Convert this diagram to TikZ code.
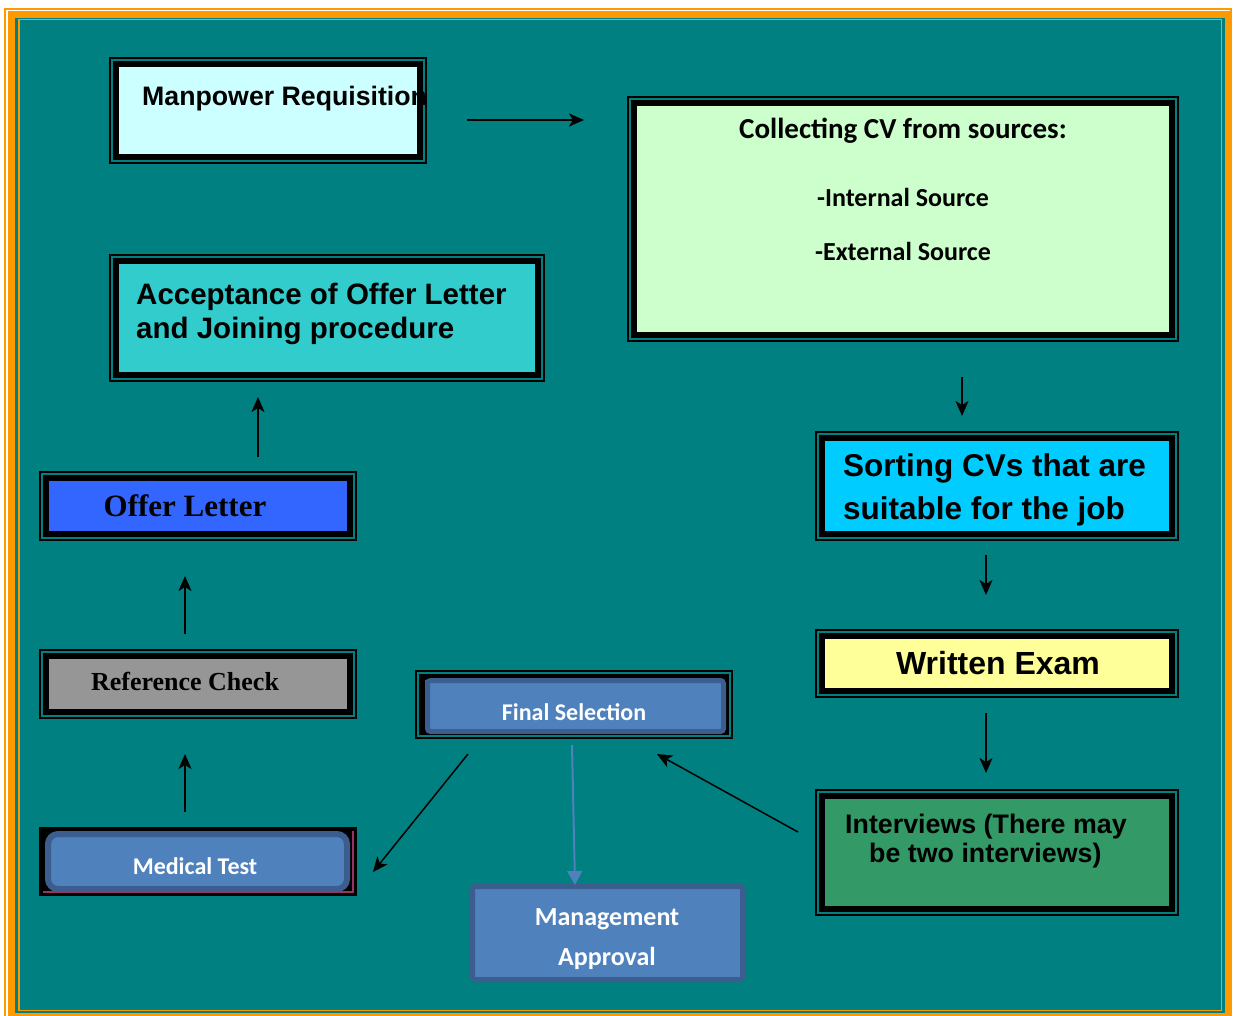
\documentclass[tikz,border=0pt]{standalone}
\usepackage{fontspec}
\setmainfont{Liberation Sans}
\newfontfamily\calfont{Carlito}
\newfontfamily\timesfont{Liberation Serif}
\usetikzlibrary{arrows.meta}

\definecolor{bgteal}{HTML}{008080}
\definecolor{frameorange}{HTML}{FF9900}
\definecolor{manpfill}{HTML}{CCFFFF}
\definecolor{collfill}{HTML}{CCFFCC}
\definecolor{accfill}{HTML}{33CCCC}
\definecolor{offerfill}{HTML}{3366FF}
\definecolor{reffill}{HTML}{969696}
\definecolor{sortfill}{HTML}{00CCFF}
\definecolor{examfill}{HTML}{FFFF99}
\definecolor{intfill}{HTML}{339966}
\definecolor{stepblue}{HTML}{4F81BD}
\definecolor{stepedge}{HTML}{3B5E8E}
\definecolor{rimred}{HTML}{993366}

\newcommand{\fsz}[1]{\fontsize{#1}{#1}\selectfont}

\begin{document}
\begin{tikzpicture}[x=1pt,y=-1pt,
    box/.style={draw=black,line width=6pt,outer sep=0pt,inner sep=0pt},
    rim/.style={draw=black,line width=1.5pt},
    pill/.style={fill=stepblue,draw=stepedge,line width=6pt,outer sep=0pt,inner sep=0pt},
    arial/.style={inner sep=0pt,font=\bfseries\fsz{#1}},
    times/.style={inner sep=0pt,font=\timesfont\bfseries\fsz{#1}},
    cal/.style={inner sep=0pt,font=\calfont\bfseries\fsz{#1}},
    arr/.style={line width=1.5pt,-{Stealth[length=15pt,width=13pt,inset=4pt]}}]

  \useasboundingbox (0,0) rectangle (1233,1015);
  \clip (0,0) rectangle (1233,1015);

  % page frame
  \fill[white] (0,0) rectangle (1233,1015);
  \draw[frameorange,line width=2pt] (5,9) rectangle (1231,1030);
  \filldraw[fill=bgteal,draw=frameorange,line width=7pt] (11.5,14.5) rectangle (1228.5,1016);
  \draw[frameorange,line width=1.5pt] (19,19.5) rectangle (1221.5,1010.5);

  % boxes
  \node[box,fill=manpfill,minimum width=304,minimum height=93] (manp) at (268,110.5) {};
  \node[box,fill=collfill,minimum width=538,minimum height=232] (coll) at (903,219) {};
  \node[box,fill=accfill,minimum width=422,minimum height=114] (acc) at (327,318) {};
  \node[box,fill=offerfill,minimum width=304,minimum height=56] (offer) at (198,506) {};
  \node[box,fill=reffill,minimum width=304,minimum height=56] (ref) at (198,684) {};
  \node[box,fill=sortfill,minimum width=350,minimum height=96] (sort) at (997,486) {};
  \node[box,fill=examfill,minimum width=350,minimum height=55] (exam) at (997,663.5) {};
  \node[box,fill=intfill,minimum width=350,minimum height=113] (int) at (997,852.5) {};
  \node[box,minimum width=304,minimum height=55] (fin) at (574,704.5) {};

  \draw[rim] ([shift={(-6,-6)}]manp.north west) rectangle ([shift={(6,6)}]manp.south east);
  \draw[rim] ([shift={(-6,-6)}]coll.north west) rectangle ([shift={(6,6)}]coll.south east);
  \draw[rim] ([shift={(-6,-6)}]acc.north west) rectangle ([shift={(6,6)}]acc.south east);
  \draw[rim] ([shift={(-6,-6)}]offer.north west) rectangle ([shift={(6,6)}]offer.south east);
  \draw[rim] ([shift={(-6,-6)}]ref.north west) rectangle ([shift={(6,6)}]ref.south east);
  \draw[rim] ([shift={(-6,-6)}]sort.north west) rectangle ([shift={(6,6)}]sort.south east);
  \draw[rim] ([shift={(-6,-6)}]exam.north west) rectangle ([shift={(6,6)}]exam.south east);
  \draw[rim] ([shift={(-6,-6)}]int.north west) rectangle ([shift={(6,6)}]int.south east);
  \draw[rim] ([shift={(-6,-6)}]fin.north west) rectangle ([shift={(6,6)}]fin.south east);

  % medical test frame
  \node[fill=black,rim,outer sep=0pt,minimum width=316,minimum height=67] (med) at (198,861.5) {};
  \draw[rimred,line width=1.2pt] ([shift={(-3,3)}]med.north east) |- ([shift={(3,-3)}]med.south west);

  % blue steps
  \node[pill,rounded corners=10pt,minimum width=299,minimum height=55] (medin) at (197.5,861.5) {};
  \node[pill,line width=5pt,rounded corners=3pt,minimum width=296,minimum height=51] (finin) at (575.5,706) {};
  \node[pill,line width=5pt,rounded corners=2pt,minimum width=270,minimum height=93] (mgmt) at (607.5,933) {};

  % texts
  \node[arial=26.7,anchor=base west] (manpT) at (142,105) {Manpower Requisition};
  \node[cal=29,anchor=base] (collT) at (903,138) {Collecting CV from sources:};
  \node[cal=26,anchor=base] (collA) at (903,206) {-Internal Source};
  \node[cal=26,anchor=base] (collB) at (903,260) {-External Source};
  \node[arial=29.5,anchor=base west] (accA) at (136,304) {Acceptance of Offer Letter};
  \node[arial=29.5,anchor=base west] (accB) at (136,338) {and Joining procedure};
  \node[times=31,anchor=base] (offerT) at (185,516) {Offer Letter};
  \node[times=26,anchor=base] (refT) at (185,690.5) {Reference Check};
  \node[cal=24,anchor=base,text=white] (medT) at (195,874) {Medical Test};
  \node[cal=24,anchor=base,text=white] (finT) at (574,720) {Final Selection};
  \node[cal=26,anchor=base,text=white] (mgmtA) at (607,925.5) {Management};
  \node[cal=26,anchor=base,text=white] (mgmtB) at (607,965.5) {Approval};
  \node[arial=31.5,anchor=base west] (sortA) at (843,476.5) {Sorting CVs that are};
  \node[arial=31.5,anchor=base west] (sortB) at (843,519.5) {suitable for the job};
  \node[arial=32,anchor=base] (examT) at (998,674.5) {Written Exam};
  \node[arial=26.8,anchor=base west] (intA) at (845,833) {Interviews (There may};
  \node[arial=26.8,anchor=base west] (intB) at (869,862) {be two interviews)};

  % arrows
  \coordinate (manpOut) at (467,120);
  \coordinate (collIn) at (584,120);
  \coordinate (collOut) at (962,377);
  \coordinate (sortIn) at (962,416);
  \coordinate (sortOut) at (986,555);
  \coordinate (examIn) at (986,595);
  \coordinate (examOut) at (986,713);
  \coordinate (intIn) at (986,773);
  \coordinate (intOut) at (798,832);
  \coordinate (finIn) at (657,754);
  \coordinate (finDown) at (572,745);
  \coordinate (mgmtIn) at (575,885);
  \coordinate (finOut) at (468,754);
  \coordinate (medIn) at (373,872);
  \coordinate (medOut) at (185,812);
  \coordinate (refIn) at (185,754);
  \coordinate (refOut) at (185,634);
  \coordinate (offerIn) at (185,576);
  \coordinate (offerOut) at (258,457);
  \coordinate (accIn) at (258,397);

  \draw[arr] (manpOut) -- (collIn);
  \draw[arr] (collOut) -- (sortIn);
  \draw[arr] (sortOut) -- (examIn);
  \draw[arr] (examOut) -- (intIn);
  \draw[arr] (intOut) -- (finIn);
  \draw[line width=2pt,stepblue,-{Triangle[length=14pt,width=15pt]}] (finDown) -- (mgmtIn);
  \draw[arr] (finOut) -- (medIn);
  \draw[arr] (medOut) -- (refIn);
  \draw[arr] (refOut) -- (offerIn);
  \draw[arr] (offerOut) -- (accIn);
\end{tikzpicture}
\end{document}
